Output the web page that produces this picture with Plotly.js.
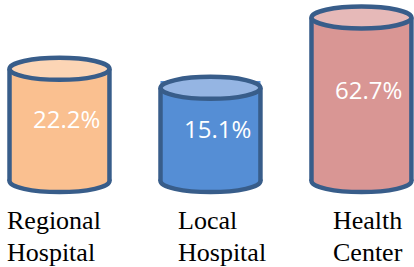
<!DOCTYPE html>
<html>
<head>
<meta charset="utf-8">
<script src="https://cdn.plot.ly/plotly-3.0.1.min.js"></script>
<style>html,body{margin:0;padding:0;background:#fff;}#chart{width:414px;height:267px;}</style>
</head>
<body>
<div id="chart"></div>
<script>
// ---- data ----
var categories = ["Regional Hospital", "Local Hospital", "Health Center"];
var labelLines = [["Regional", "Hospital"], ["Local", "Hospital"], ["Health", "Center"]];
var shares = [22.2, 15.1, 62.7];
var shareLabels = ["22.2%", "15.1%", "62.7%"];

// ---- styles ----
var bodyColors = ["#FAC090", "#558ED5", "#D99694"];
var topColors = ["#FCD5B5", "#95B5E3", "#E6B9B8"];
var outline = "#385D8A";
var baseVal = 2.29;      // common floor of the log-scaled cylinders
var barW = 0.662;
var yRange = [-0.395, 1.951];
var plotH = 267;
var capHalfPx = 11;      // px half-height of the ellipses
var capFactor = Math.pow(10, capHalfPx * (yRange[1] - yRange[0]) / plotH);
var lw = 4.5;
var labelShift = [-54, -34, -30];

var shapes = [];
var annotations = [];
shares.forEach(function (v, i) {
  // bottom ellipse (under the bar body)
  shapes.push({type: "circle", layer: "below", xref: "x", yref: "y",
    x0: i - barW / 2, x1: i + barW / 2,
    y0: baseVal / capFactor, y1: baseVal * capFactor,
    fillcolor: bodyColors[i], line: {color: outline, width: lw}});
  // side walls
  [-1, 1].forEach(function (s) {
    shapes.push({type: "line", layer: "above", xref: "x", yref: "y",
      x0: i + s * barW / 2, x1: i + s * barW / 2, y0: baseVal, y1: v,
      line: {color: outline, width: lw}});
  });
  // top ellipse
  shapes.push({type: "circle", layer: "above", xref: "x", yref: "y",
    x0: i - barW / 2, x1: i + barW / 2,
    y0: v / capFactor, y1: v * capFactor,
    fillcolor: topColors[i], line: {color: outline, width: lw}});
  // value label
  var lt = Math.log10(v), lb = Math.log10(baseVal);
  annotations.push({xref: "x", yref: "y", x: i, y: lt - 0.44 * (lt - lb),
    xshift: 7, text: shareLabels[i], showarrow: false,
    font: {family: "Open Sans", size: 24, color: "#ffffff"}});
  // category label, one annotation per line
  labelLines[i].forEach(function (line, k) {
    annotations.push({xref: "x", yref: "paper", x: i, y: 1 - (204 + 32 * k) / 267,
      xanchor: "left", yanchor: "top", align: "left", xshift: labelShift[i],
      text: line, showarrow: false,
      font: {family: "Liberation Serif", size: 26, color: "#000000"}});
  });
});

var trace = {
  type: "bar",
  x: categories,
  y: shares,
  base: baseVal,
  width: barW,
  marker: {color: bodyColors, line: {width: 0}},
  hoverinfo: "skip"
};

var layout = {
  width: 414, height: 267,
  margin: {l: 0, r: 0, t: 0, b: 0},
  paper_bgcolor: "#ffffff", plot_bgcolor: "#ffffff",
  showlegend: false,
  xaxis: {type: "category", range: [-0.394, 2.348], visible: false, fixedrange: true},
  yaxis: {type: "log", range: yRange, visible: false, fixedrange: true},
  shapes: shapes,
  annotations: annotations
};

Plotly.newPlot("chart", [trace], layout, {displayModeBar: false, staticPlot: true});
</script>
</body>
</html>
